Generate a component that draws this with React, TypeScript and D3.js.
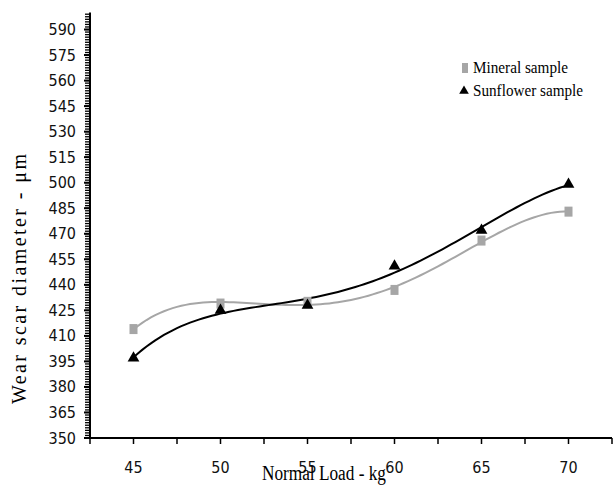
import * as d3 from "d3";
import React, { useEffect, useRef } from "react";

const loads = [45, 50, 55, 60, 65, 70];
const mineral = [414, 429, 430, 437, 466, 483];
const sunflower = [397, 425, 428, 451, 472, 499];
const yTicks = [350, 365, 380, 395, 410, 425, 440, 455, 470, 485, 500, 515, 530, 545, 560, 575, 590];
const xLabels = [45, 50, 55, 60, 65, 70];

// least squares polynomial, like the excel poly trendline
function polyFit(xs: number[], ys: number[], order: number) {
  const c = 57.5;
  const n = order + 1;
  const A: number[][] = [];
  for (let r = 0; r < n; r++) {
    A.push(new Array(n + 1).fill(0));
    for (let k = 0; k < xs.length; k++) {
      const u = (xs[k] - c) / 10;
      for (let s = 0; s < n; s++) A[r][s] += Math.pow(u, r + s);
      A[r][n] += ys[k] * Math.pow(u, r);
    }
  }
  for (let i = 0; i < n; i++) {
    let p = i;
    for (let r = i + 1; r < n; r++) if (Math.abs(A[r][i]) > Math.abs(A[p][i])) p = r;
    [A[i], A[p]] = [A[p], A[i]];
    for (let r = 0; r < n; r++) {
      if (r === i) continue;
      const f = A[r][i] / A[i][i];
      for (let s = i; s <= n; s++) A[r][s] -= f * A[i][s];
    }
  }
  const coef = A.map((row, i) => row[n] / row[i]);
  return (x: number) => coef.reduce((acc, a, i) => acc + a * Math.pow((x - c) / 10, i), 0);
}

function App() {
  const ref = useRef<SVGSVGElement>(null);

  useEffect(() => {
    const svg = d3.select(ref.current);
    svg.selectAll("*").remove();

    const x = d3.scaleLinear().domain([42.5, 72.5]).range([90, 612]);
    const y = d3.scaleLinear().domain([350, 600]).range([438, 12.5]);

    // y axis with minor ticks
    svg.append("line")
      .attr("x1", 90).attr("x2", 90)
      .attr("y1", y(600)).attr("y2", y(350))
      .attr("stroke", "black").attr("stroke-width", 2);
    for (let v = 350; v <= 600.01; v += 1.5) {
      svg.append("line")
        .attr("x1", 85).attr("x2", 90)
        .attr("y1", y(v)).attr("y2", y(v))
        .attr("stroke", "black").attr("stroke-width", 1.3);
    }
    yTicks.forEach((t) => {
      svg.append("line")
        .attr("x1", 84).attr("x2", 90)
        .attr("y1", y(t)).attr("y2", y(t))
        .attr("stroke", "black").attr("stroke-width", 2);
      svg.append("text")
        .attr("x", 76).attr("y", y(t) + 5.5)
        .attr("text-anchor", "end")
        .style("font-family", "'Liberation Sans Narrow', 'DejaVu Sans Condensed', sans-serif")
        .style("font-size", "16px")
        .attr("fill", "#111")
        .text(t);
    });

    // x axis
    svg.append("line")
      .attr("x1", 89).attr("x2", 612)
      .attr("y1", 438).attr("y2", 438)
      .attr("stroke", "black").attr("stroke-width", 2);
    d3.range(42.5, 72.6, 2.5).forEach((t) => {
      svg.append("line")
        .attr("x1", x(t)).attr("x2", x(t))
        .attr("y1", 438).attr("y2", 444)
        .attr("stroke", "black").attr("stroke-width", 1.5);
    });
    xLabels.forEach((t) => {
      svg.append("text")
        .attr("x", x(t)).attr("y", 473)
        .attr("text-anchor", "middle")
        .style("font-family", "'Liberation Sans Narrow', 'DejaVu Sans Condensed', sans-serif")
        .style("font-size", "16px")
        .attr("fill", "#111")
        .text(t);
    });

    // axis titles
    svg.append("text")
      .attr("x", 262).attr("y", 480)
      .attr("textLength", 124).attr("lengthAdjust", "spacingAndGlyphs")
      .style("font-family", "'Liberation Serif', serif")
      .style("font-size", "20px")
      .text("Normal Load - kg");
    svg.append("text")
      .attr("transform", "translate(26,404) rotate(-90)")
      .attr("textLength", 250).attr("lengthAdjust", "spacing")
      .style("font-family", "'Liberation Serif', serif")
      .style("font-size", "20px")
      .text("Wear scar diameter - μm");

    // trend lines
    const line = d3.line<number[]>().x((d) => x(d[0])).y((d) => y(d[1]));
    const xs = d3.range(45, 70.01, 0.25);
    const series = [
      { data: mineral, color: "#a6a6a6" },
      { data: sunflower, color: "#000" },
    ];
    series.forEach((s) => {
      const f = polyFit(loads, s.data, 4);
      svg.append("path")
        .datum(xs.map((v) => [v, f(v)]))
        .attr("d", line)
        .attr("fill", "none")
        .attr("stroke", s.color)
        .attr("stroke-width", 2);
    });

    // markers
    loads.forEach((l, i) => {
      svg.append("rect")
        .attr("x", x(l) - 4).attr("y", y(mineral[i]) - 5)
        .attr("width", 8).attr("height", 10)
        .attr("fill", "#a6a6a6");
    });
    const tri = d3.symbol().type(d3.symbolTriangle).size(60);
    loads.forEach((l, i) => {
      svg.append("path")
        .attr("d", tri())
        .attr("transform", `translate(${x(l)},${y(sunflower[i])})`)
        .attr("fill", "#000");
    });

    // legend
    svg.append("rect")
      .attr("x", 462).attr("y", 63).attr("width", 6).attr("height", 10)
      .attr("fill", "#a6a6a6");
    svg.append("path")
      .attr("d", d3.symbol().type(d3.symbolTriangle).size(40)())
      .attr("transform", "translate(464,91)")
      .attr("fill", "#000");
    svg.append("text")
      .attr("x", 473).attr("y", 73)
      .attr("textLength", 95).attr("lengthAdjust", "spacingAndGlyphs")
      .style("font-family", "'Liberation Serif', serif")
      .style("font-size", "16px")
      .text("Mineral sample");
    svg.append("text")
      .attr("x", 473).attr("y", 96)
      .attr("textLength", 110).attr("lengthAdjust", "spacingAndGlyphs")
      .style("font-family", "'Liberation Serif', serif")
      .style("font-size", "16px")
      .text("Sunflower sample");
  }, []);

  return (
    <div>
      <svg ref={ref} width={614} height={485}
        style={{ position: "absolute", left: 0, top: 0, background: "white" }}></svg>
    </div>
  );
}

export default App;
